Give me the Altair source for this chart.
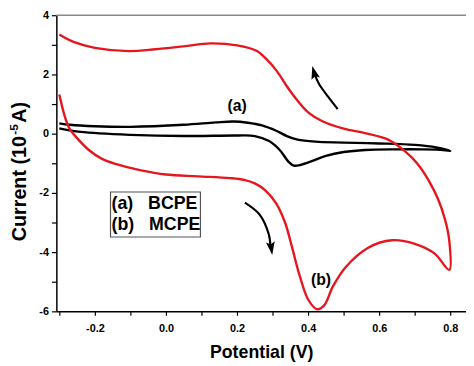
import altair as alt
import pandas as pd

# Curve (a) BCPE - black
a_x = [-0.30, -0.24, -0.10, 0.05, 0.20, 0.25, 0.29, 0.32, 0.345, 0.36, 0.38, 0.41, 0.45, 0.50, 0.56, 0.65, 0.72, 0.78, 0.80,
       0.76, 0.70, 0.60, 0.50, 0.42, 0.37, 0.34, 0.31, 0.27, 0.23, 0.19, 0.14, 0.05, -0.10, -0.20, -0.27, -0.30]
a_y = [0.18, 0.06, -0.04, -0.08, -0.06, -0.08, -0.25, -0.55, -0.95, -1.08, -1.05, -0.93, -0.75, -0.62, -0.55, -0.53, -0.53, -0.55, -0.58,
       -0.46, -0.38, -0.33, -0.30, -0.27, -0.20, -0.08, 0.10, 0.28, 0.37, 0.41, 0.38, 0.30, 0.23, 0.25, 0.30, 0.35]

# Curve (b) MCPE - red
b_x = [-0.30, -0.285, -0.272, -0.25, -0.217, -0.18, -0.142, -0.07, 0.0, 0.09, 0.18, 0.22, 0.25, 0.28, 0.31, 0.335, 0.355, 0.375,
       0.40, 0.425, 0.445, 0.47, 0.506, 0.569, 0.636, 0.70, 0.756, 0.797,
       0.797, 0.785, 0.765, 0.74, 0.708, 0.672, 0.625, 0.56, 0.50, 0.44, 0.40, 0.367, 0.34, 0.311, 0.28, 0.256, 0.20, 0.125,
       0.05, -0.03, -0.106, -0.20, -0.26, -0.30]
b_y = [1.32, 0.60, 0.19, -0.15, -0.55, -0.85, -1.02, -1.24, -1.38, -1.44, -1.50, -1.56, -1.68, -1.92, -2.35, -3.00, -3.85, -4.75,
       -5.60, -5.93, -5.80, -5.15, -4.50, -3.85, -3.60, -3.72, -4.05, -4.60,
       -3.62, -2.90, -2.20, -1.60, -1.02, -0.59, -0.20, 0.02, 0.17, 0.42, 0.72, 1.16, 1.60, 2.13, 2.55, 2.79, 2.98, 3.05,
       2.95, 2.85, 2.79, 2.90, 3.10, 3.35]

# Arrows
arr_down_x = [0.222, 0.264, 0.289, 0.294]
arr_down_y = [-2.33, -2.74, -3.39, -3.80]
arr_up_x = [0.483, 0.456, 0.431, 0.420]
arr_up_y = [0.83, 1.25, 1.67, 1.95]
head_x = [0.296, 0.417]
head_y = [-3.85, 2.05]
head_angle = [172, 345]

labels_text = ["(a)", "(b)"]
labels_x = [0.20, 0.436]
labels_y = [0.93, -4.93]

legend_text = ["(a)\u00a0\u00a0\u00a0BCPE", "(b)\u00a0\u00a0\u00a0MCPE"]
legend_x = [-0.153, -0.153]
legend_y = [-2.39, -3.07]
box_x = [-0.156, 0.097]
box_y = [-1.97, -3.49]

ytitle_parts = ["Current (10", "-5", "A)"]

xdom = [-0.3083, 0.844]
ydom = [-6, 4]
xticks = [round(-0.3 + 0.1 * i, 1) for i in range(12)]
yticks = list(range(-6, 5))

FONT = "Liberation Sans"

dfa = pd.DataFrame({"x": a_x, "y": a_y, "o": range(len(a_x))})
dfb = pd.DataFrame({"x": b_x, "y": b_y, "o": range(len(b_x))})

xscale = alt.Scale(domain=xdom, nice=False, zero=False)
yscale = alt.Scale(domain=ydom, nice=False, zero=False)

xaxis = alt.Axis(values=xticks, title="Potential (V)",
                 labelExpr="(abs(round(datum.value*10)) % 2 == 0) ? replace(format(datum.value, '.1f'), '\u2212', '-') : ''",
                 labelFont=FONT, labelFontWeight="bold", labelFontSize=11, labelColor="black",
                 titleFont=FONT, titleFontWeight="bold", titleFontSize=18, titleColor="black", titlePadding=11,
                 tickColor="black", tickSize=4, tickWidth=1.2, domainColor="black", domainWidth=1.5,
                 grid=False, labelPadding=7, labelFlush=False, labelOverlap=False)
yaxis = alt.Axis(values=yticks, title=None,
                 labelExpr="(abs(datum.value) % 2 == 0) ? replace(format(datum.value, 'd'), '\u2212', '-') : ''",
                 labelFont=FONT, labelFontWeight="bold", labelFontSize=11, labelColor="black",
                 tickColor="black", tickSize=5, tickWidth=1.2, domainColor="black", domainWidth=1.5,
                 grid=False, labelPadding=3, labelFlush=False, labelOverlap=False)

X = alt.X("x:Q", scale=xscale, axis=xaxis)
Y = alt.Y("y:Q", scale=yscale, axis=yaxis)

line_a = alt.Chart(dfa).mark_line(color="black", strokeWidth=2.4, interpolate="catmull-rom").encode(
    x=X, y=Y, order="o:Q")
line_b = alt.Chart(dfb).mark_line(color="#e5161d", strokeWidth=2.4, interpolate="catmull-rom").encode(
    x=X, y=Y, order="o:Q")

dfd = pd.DataFrame({"x": arr_down_x, "y": arr_down_y, "o": range(4)})
dfu = pd.DataFrame({"x": arr_up_x, "y": arr_up_y, "o": range(4)})
arrow_d = alt.Chart(dfd).mark_line(color="black", strokeWidth=2.2, interpolate="catmull-rom").encode(
    x=X, y=Y, order="o:Q")
arrow_u = alt.Chart(dfu).mark_line(color="black", strokeWidth=2.2, interpolate="catmull-rom").encode(
    x=X, y=Y, order="o:Q")
dfh = pd.DataFrame({"x": head_x, "y": head_y, "a": head_angle})
heads = alt.Chart(dfh).mark_point(shape="M-0.6,0.8L0,-1L0.6,0.8L0,0.45Z", filled=True, color="black", opacity=1, size=220).encode(
    x=X, y=Y, angle=alt.Angle("a:Q", scale=None))

dfl = pd.DataFrame({"x": labels_x, "y": labels_y, "t": labels_text})
labels = alt.Chart(dfl).mark_text(font=FONT, fontWeight="bold", fontSize=16, color="black").encode(
    x=X, y=Y, text="t:N")

dfbox = pd.DataFrame({"x": [box_x[0]], "x2": [box_x[1]], "y": [box_y[0]], "y2": [box_y[1]]})
box = alt.Chart(dfbox).mark_rect(fill="white", stroke="#555555", strokeWidth=1.2).encode(
    x=X, x2="x2:Q", y=Y, y2="y2:Q")
dfleg = pd.DataFrame({"x": legend_x, "y": legend_y, "t": legend_text})
legend = alt.Chart(dfleg).mark_text(font=FONT, fontWeight="bold", fontSize=18, color="black", align="left",
                                    baseline="middle").encode(
    x=X, y=Y, text="t:N")

top = alt.Chart(pd.DataFrame({"y": [4]})).mark_rule(color="#888888", strokeWidth=1.5).encode(y=Y)

# Rotated y-axis title built from pieces (main text + superscript)
t1 = alt.Chart(pd.DataFrame({"t": [ytitle_parts[0]]})).mark_text(
    font=FONT, fontWeight="bold", fontSize=20, angle=270, align="left", baseline="alphabetic", color="black").encode(
    text="t:N", x=alt.value(-31), y=alt.value(229))
t2 = alt.Chart(pd.DataFrame({"t": [ytitle_parts[1]]})).mark_text(
    font=FONT, fontWeight="bold", fontSize=12, angle=270, align="left", baseline="alphabetic", color="black").encode(
    text="t:N", x=alt.value(-39), y=alt.value(121))
t3 = alt.Chart(pd.DataFrame({"t": [ytitle_parts[2]]})).mark_text(
    font=FONT, fontWeight="bold", fontSize=20, angle=270, align="left", baseline="alphabetic", color="black").encode(
    text="t:N", x=alt.value(-31), y=alt.value(109))

chart = alt.layer(line_a, line_b, arrow_d, arrow_u, heads, labels, box, legend, top, t1, t2, t3).properties(
    width=415, height=300,
    autosize=alt.AutoSizeParams(type="none"),
    padding={"left": 49, "top": 5, "right": 0, "bottom": 50},
    background="white",
).configure_view(stroke=None)

chart.save("out.html", embed_options={"renderer": "svg", "actions": False})
